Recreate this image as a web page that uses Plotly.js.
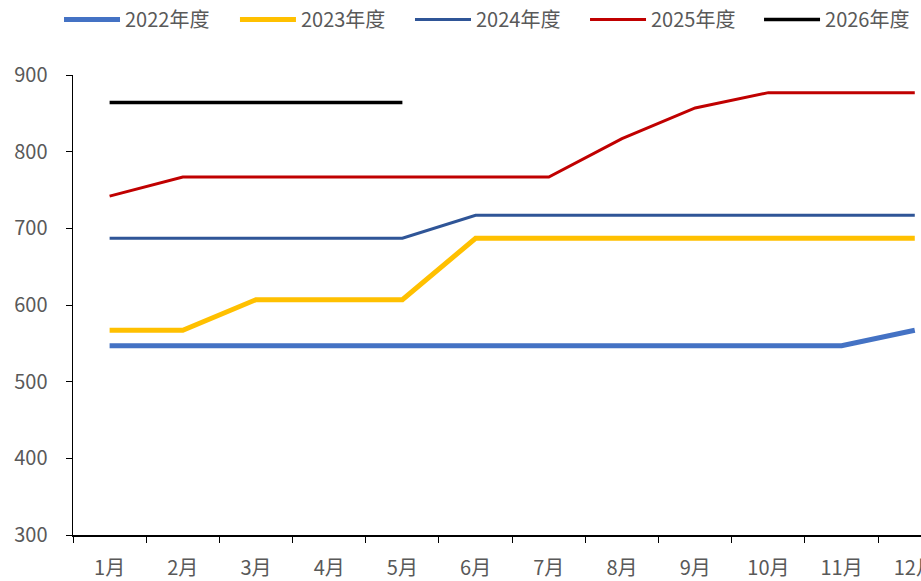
<!DOCTYPE html>
<html>
<head>
<meta charset="utf-8">
<script src="https://cdn.plot.ly/plotly-3.0.1.min.js"></script>
<style>html,body{margin:0;padding:0;background:#fff;}#chart{width:921px;height:581px;}</style>
</head>
<body>
<div id="chart"></div>
<script>
const months = ['1月','2月','3月','4月','5月','6月','7月','8月','9月','10月','11月','12月'];
const seriesNames = ['2022年度','2023年度','2024年度','2025年度','2026年度'];
const v2022 = [547,547,547,547,547,547,547,547,547,547,547,567];
const v2023 = [567,567,607,607,607,687,687,687,687,687,687,687];
const v2024 = [687,687,687,687,687,717,717,717,717,717,717,717];
const v2025 = [742,767,767,767,767,767,767,817,857,877,877,877];
const v2026 = [864,864,864,864,864];
const colors = ['#4472C4','#FFC000','#2F5597','#C00000','#000000'];
const widths = [5,5,3,3,3.5];
const values = [v2022,v2023,v2024,v2025,v2026];

const font = 'Noto Sans CJK SC, sans-serif';
const legendIds = ['legend','legend2','legend3','legend4','legend5'];
const legendX = [-0.0165, 0.191, 0.3974, 0.6038, 0.809];

const traces = values.map((v,i)=>({
  type:'scatter', mode:'lines', name:seriesNames[i],
  x: months.slice(0,v.length), y: v,
  line:{color:colors[i], width:widths[i]},
  legend: legendIds[i]
}));

const layout = {
  width:921, height:581,
  margin:{l:73, r:0, t:74, b:46},
  paper_bgcolor:'#fff', plot_bgcolor:'#fff',
  font:{family:font, color:'#595959', size:20},
  showlegend:true,
  xaxis:{type:'category', categoryarray:months, range:[-0.5,11.085],
    showline:true, linecolor:'#000', linewidth:1.5, ticks:'outside', ticklen:6, tickcolor:'#000',
    tickson:'boundaries', showgrid:false, zeroline:false, ticklabelstandoff:14,
    tickfont:{family:font, size:20, color:'#595959'}},
  yaxis:{range:[300,900], dtick:100, tick0:300, showline:true, linecolor:'#000', linewidth:1.5,
    ticks:'outside', ticklen:6, tickcolor:'#000', showgrid:false, zeroline:false,
    ticklabelstandoff:14, tickfont:{family:font, size:20, color:'#595959'}}
};
legendIds.forEach((id,i)=>{
  layout[id] = {orientation:'h', x:legendX[i], xanchor:'left', y:1.1215, yanchor:'middle',
    itemwidth:56, bgcolor:'rgba(0,0,0,0)',
    font:{family:font, size:20, color:'#595959'}};
});
Plotly.newPlot('chart', traces, layout, {displayModeBar:false, staticPlot:true});
</script>
</body>
</html>
